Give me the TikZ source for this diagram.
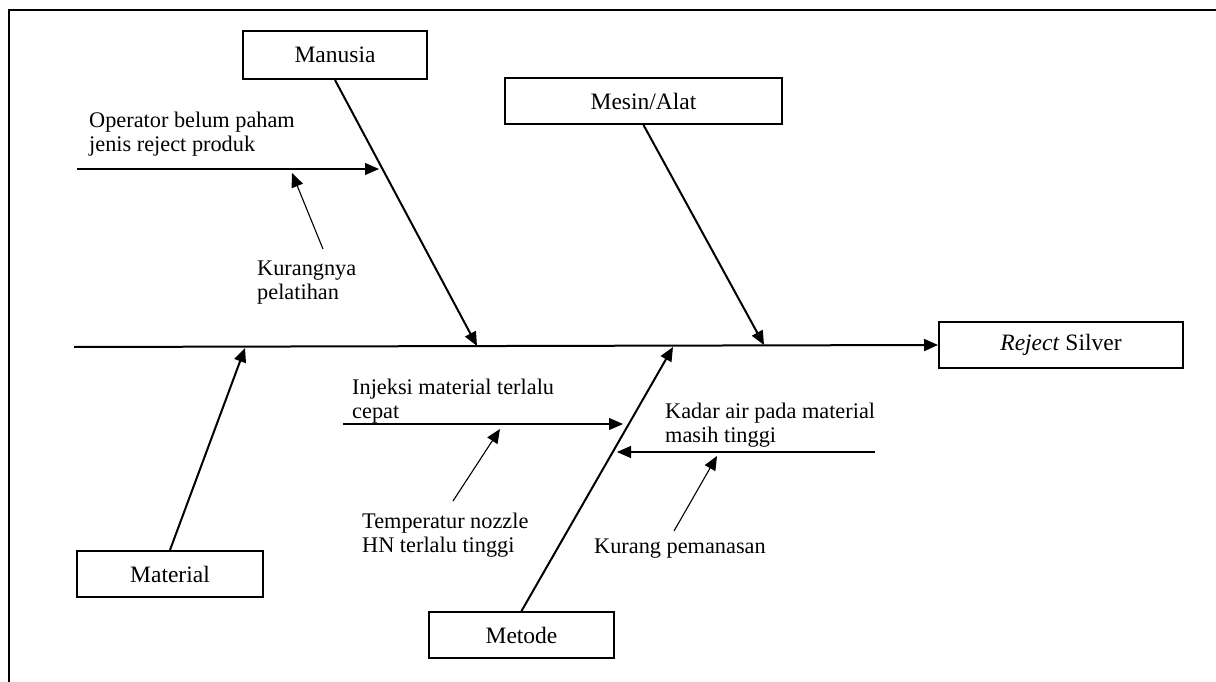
\documentclass[tikz,border=0pt]{standalone}
\usepackage{fontspec}
\setmainfont{Liberation Serif}
\usetikzlibrary{arrows.meta}
\begin{document}
\begin{tikzpicture}[x=1pt,y=-1pt,
  catbox/.style={draw,line width=2pt,minimum height=46pt,inner sep=0pt,font=\fontsize{23.5}{25}\selectfont},
  lbl/.style={anchor=base west,inner sep=0pt,align=left,font=\fontsize{22.3}{24}\selectfont},
  bone/.style={line width=2pt,-{Triangle[length=14pt,width=12pt]}},
  sub/.style={line width=1.1pt,-{Triangle[length=14pt,width=12pt]}}]
\useasboundingbox (0,0) rectangle (1216,682);
% frame
\coordinate (fTL) at (9,10);
\coordinate (fTR) at (1216,10);
\coordinate (fBL) at (9,682);
\draw[line width=1.5pt] (fTR) -- (fTL) -- (fBL);
% category boxes
\node[catbox,minimum width=184pt,minimum height=48pt] (man) at (335,55) {Manusia};
\node[catbox,minimum width=277pt] (mes) at (643.5,101) {Mesin/Alat};
\node[catbox,minimum width=244pt] (rej) at (1061,345) {\textit{Reject} Silver};
\node[catbox,minimum width=186pt] (mat) at (170,574) {Material};
\node[catbox,minimum width=185pt] (met) at (521.5,635) {Metode};
% spine
\coordinate (spL) at (74,347);
\draw[line width=2pt,-{Triangle[length=14pt,width=12pt]}] (spL) -- (rej.west);
% bones
\coordinate (tMan) at (477,346);
\coordinate (tMes) at (764,345);
\coordinate (tMat) at (245,348);
\coordinate (tMet) at (673,347);
\draw[bone] (man.south) -- (tMan);
\draw[bone] (mes.south) -- (tMes);
\draw[bone] (mat.north) -- (tMat);
\draw[bone] (met.north) -- (tMet);
% Manusia sub-causes
\node[lbl] (t1) at (89,152) {Operator belum paham\\jenis reject produk};
\coordinate (a1s) at (77,169);
\coordinate (a1e) at (379,169);
\draw[sub] (a1s) -- (a1e);
\node[lbl] (t2) at (257,299) {Kurangnya\\pelatihan};
\coordinate (a2s) at (323,249);
\coordinate (a2e) at (292,173);
\draw[sub] (a2s) -- (a2e);
% Metode sub-causes
\node[lbl] (t3) at (352,418) {Injeksi material terlalu\\cepat};
\coordinate (a3s) at (343,424);
\coordinate (a3e) at (623,424);
\draw[sub] (a3s) -- (a3e);
\node[lbl] (t4) at (362,552) {Temperatur nozzle\\HN terlalu tinggi};
\coordinate (a4s) at (453,501);
\coordinate (a4e) at (500,429);
\draw[sub] (a4s) -- (a4e);
\node[lbl] (t5) at (665,442) {Kadar air pada material\\masih tinggi};
\coordinate (a5s) at (875,452);
\coordinate (a5e) at (617,452);
\draw[sub] (a5s) -- (a5e);
\node[lbl] (t6) at (594,553) {Kurang pemanasan};
\coordinate (a6s) at (674,531);
\coordinate (a6e) at (717,456);
\draw[sub] (a6s) -- (a6e);
\end{tikzpicture}
\end{document}
